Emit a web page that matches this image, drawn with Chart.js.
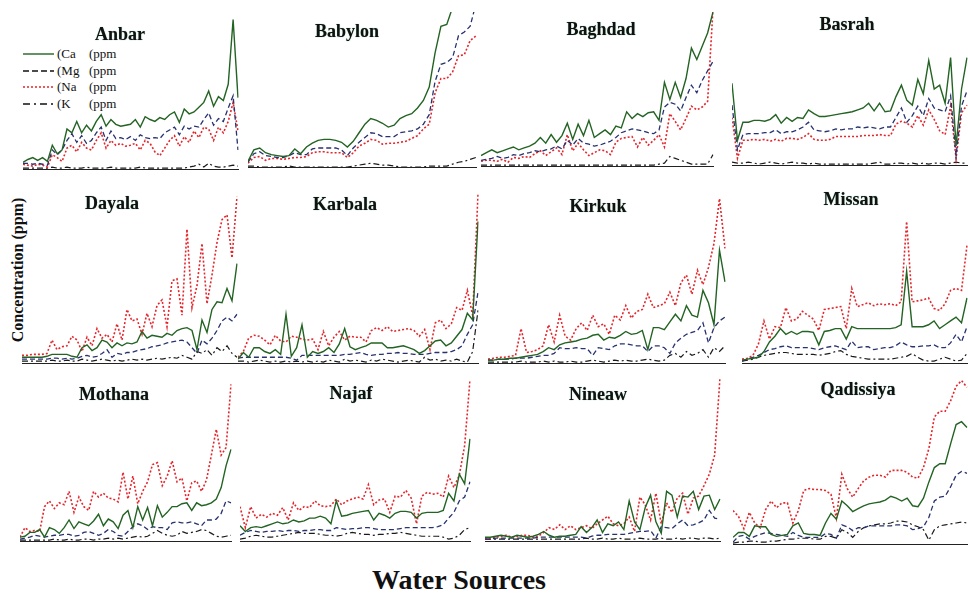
<!DOCTYPE html>
<html>
<head>
<meta charset="utf-8">
<script src="https://cdn.jsdelivr.net/npm/chart.js@4.4.1/dist/chart.umd.min.js"></script>
<style>
  body { margin: 0; background: #fff; }
  #page { position: relative; width: 968px; height: 594px; overflow: hidden; background: #fff; }
  #page canvas { position: absolute; }
  .ttl { position: absolute; width: 140px; text-align: center; font: bold 18px "Liberation Serif", "DejaVu Serif", serif; line-height: 18px; color: #111; text-shadow: 0 0 1px #6a8; }
  .legend { position: absolute; left: 23px; top: 46px; font: 13px "Liberation Serif", serif; color: #111; }
  .legend div { height: 16.5px; display: flex; align-items: center; }
  .legend svg { width: 31px; height: 6px; margin-right: 3px; }
  .legend span { display: inline-block; width: 32px; }
  #ytitle { position: absolute; left: -81px; top: 260px; width: 200px; height: 20px; line-height: 20px; text-align: center; font: bold 16px "Liberation Serif", serif; transform: rotate(-90deg); color: #111; }
  #xtitle { position: absolute; left: 309px; top: 566px; width: 300px; text-align: center; font: bold 28px "Liberation Serif", serif; line-height: 28px; color: #111; }
</style>
</head>
<body>
<div id="page">
  <div class="legend">
    <div><svg><line x1="0" y1="3" x2="31" y2="3" stroke="#236323" stroke-width="1.4"/></svg><span>(Ca</span>(ppm</div>
    <div><svg><line x1="0" y1="3" x2="31" y2="3" stroke="#111" stroke-width="1.4" stroke-dasharray="6 3"/></svg><span>(Mg</span>(ppm</div>
    <div><svg><line x1="0" y1="3" x2="31" y2="3" stroke="#e3262c" stroke-width="1.6" stroke-dasharray="2 2"/></svg><span>(Na</span>(ppm</div>
    <div><svg><line x1="0" y1="3" x2="31" y2="3" stroke="#111" stroke-width="1.4" stroke-dasharray="7 4 2 4"/></svg><span>(K</span>(ppm</div>
  </div>
  <div id="ytitle">Concentration (ppm)</div>
  <div id="xtitle">Water Sources</div>
</div>
<script>
// relative concentration (panel units, 0 = axis)
const anbarCa = [7,10,12,9,12,8,25,16,20,42,38,50,38,46,40,50,57,45,52,47,45,46,47,52,44,55,52,50,54,52,57,60,49,63,58,60,65,70,82,66,76,72,89,157,75];
const anbarMg = [6,6,5,6,5,4,20,15,20,30,37,28,35,27,30,38,44,30,40,32,33,31,34,30,36,33,32,33,32,38,41,44,36,45,42,45,44,52,59,46,53,50,64,77,20];
const anbarNa = [5,4,3,5,4,2,15,12,8,22,25,18,28,22,20,30,38,22,30,25,27,24,25,27,20,30,27,18,14,22,30,35,24,34,28,40,33,44,42,30,44,38,50,70,40];
const anbarK  = [1,1,1,1,1,1,2,1,1,2,1,1,1,2,1,1,1,1,2,1,1,1,1,1,2,1,1,1,1,1,1,1,1,1,2,3,5,2,6,3,2,2,3,4,3];

const babylonCa = [6,18,20,15,13,12,11,12,19,14,21,25,28,29,29,28,26,21,27,36,45,51,49,46,42,44,51,54,56,62,70,84,120,148,150,168,185,195,200,210];
const babylonMg = [5,14,16,12,11,10,10,12,15,13,13,19,20,20,20,20,18,12,20,26,31,36,35,32,32,32,36,37,38,40,45,55,90,108,110,115,138,142,148,172];
const babylonNa = [4,10,11,7,9,9,8,9,10,10,11,15,16,16,15,15,15,10,15,22,25,29,28,24,25,25,26,27,30,33,40,45,78,93,93,100,117,118,133,138];
const babylonK  = [1,1,0,0,0,0,0,1,0,0,0,0,0,0,0,0,0,0,1,2,3,4,3,2,2,1,0,0,0,0,0,1,1,1,1,3,5,6,8,10];

const baghdadCa = [11,14,17,14,16,18,20,17,19,21,24,30,24,33,25,32,45,28,44,32,48,30,34,38,33,42,40,57,50,55,52,56,57,48,88,70,88,72,92,124,112,126,140,162];
const baghdadMg = [6,7,8,10,8,9,12,11,13,14,16,15,17,18,21,18,27,22,29,24,23,21,22,24,26,30,35,37,39,38,37,35,34,38,62,67,65,58,72,85,77,90,100,110];
const baghdadNa = [5,6,6,5,7,4,9,8,10,9,13,16,11,15,19,12,33,16,24,17,11,14,17,16,12,25,29,30,31,20,30,22,27,33,20,55,47,38,50,63,59,62,68,165];
const baghdadK  = [1,1,1,1,1,1,1,1,1,1,1,1,1,1,1,1,1,1,1,1,1,1,1,1,1,1,1,1,1,1,1,1,1,2,3,10,8,6,4,2,2,2,2,12];

const basrahCa = [86,26,45,45,47,47,46,48,53,44,50,46,50,49,58,54,51,51,52,53,54,55,56,58,60,65,57,65,56,57,72,84,68,63,90,75,110,80,84,65,113,20,80,113];
const basrahMg = [63,16,32,33,33,33,34,34,37,33,35,35,37,40,45,37,36,35,36,38,37,38,38,40,39,40,39,38,40,40,50,60,45,52,62,52,70,60,58,56,73,10,62,78];
const basrahNa = [50,7,26,26,27,26,27,25,27,25,28,28,27,29,33,27,26,26,27,30,30,30,30,30,31,31,31,32,31,31,43,46,44,40,52,42,58,48,36,32,62,7,55,63];
const basrahK  = [3,2,2,3,2,1,2,3,2,1,2,3,2,2,1,2,1,1,1,1,1,1,1,1,1,1,2,3,1,1,2,2,1,2,1,2,1,2,2,1,2,3,2,2];

const dayalaCa = [6,6,6,6,6,7,9,9,9,9,7,6,16,19,13,16,24,22,16,21,18,21,20,22,33,26,29,28,27,31,29,34,36,37,34,14,45,32,56,64,63,78,65,104];
const dayalaMg = [4,4,4,4,4,4,5,5,4,5,4,5,7,8,6,7,10,14,6,10,9,11,11,13,14,15,17,18,19,21,22,23,24,22,16,10,24,20,26,34,44,48,44,51];
const dayalaNa = [8,8,9,9,9,10,24,14,17,18,28,24,12,27,18,36,26,30,22,41,24,56,44,46,30,52,38,60,66,38,86,88,50,140,58,81,125,62,92,126,150,155,110,174];
const dayalaK  = [2,2,2,2,2,2,3,2,2,3,2,2,4,3,2,3,4,3,2,3,2,3,4,3,4,3,4,5,4,5,6,5,8,6,4,12,10,14,8,16,12,18,10,6];

const karbalaCa = [4,11,6,16,16,12,10,14,9,51,7,16,40,6,12,10,12,16,11,20,36,17,14,16,18,21,21,21,16,16,17,18,16,14,10,13,18,23,24,18,21,28,35,52,45,148];
const karbalaMg = [5,6,6,6,6,6,6,6,6,6,5,3,8,8,8,8,8,8,8,8,9,9,10,11,9,8,9,9,10,10,11,10,10,9,9,9,10,11,11,11,12,14,18,30,40,74];
const karbalaNa = [6,12,26,29,28,24,19,29,23,22,28,27,25,24,25,14,33,18,27,33,24,28,27,27,22,34,37,34,38,33,34,35,36,34,28,35,14,42,45,36,41,58,55,76,50,176];
const karbalaK  = [2,2,1,2,3,2,1,2,1,2,1,2,1,2,1,2,1,3,2,1,4,2,3,2,1,3,2,4,3,2,1,2,3,2,1,6,3,4,2,3,2,4,2,1,12,55];

const kirkukCa = [3,3,4,4,5,5,6,7,8,9,12,16,14,19,21,22,23,25,26,29,30,24,27,26,29,33,30,31,34,14,37,37,35,43,51,44,60,50,48,76,63,40,118,85];
const kirkukMg = [3,3,4,4,4,5,5,5,6,7,8,8,10,16,15,15,16,15,15,8,16,15,14,18,20,20,19,18,18,12,18,18,16,10,21,26,30,32,34,42,21,37,44,48];
const kirkukNa = [4,5,6,6,7,8,36,11,12,14,18,40,22,50,28,24,36,42,34,50,38,41,30,50,45,60,47,54,56,72,58,60,62,74,60,84,92,72,97,82,100,125,172,120];
const kirkukK  = [1,1,1,1,1,1,2,1,1,1,2,1,2,1,1,2,1,1,2,3,2,1,2,3,2,3,2,2,3,4,3,2,3,8,10,6,12,8,10,14,6,16,12,18];

const missanCa = [3,4,5,6,12,22,28,36,30,33,30,33,33,32,19,33,34,36,36,25,38,36,36,36,36,36,36,36,37,40,96,38,38,38,40,44,36,40,44,48,42,68];
const missanMg = [2,4,6,8,11,14,15,17,18,16,16,16,16,15,14,16,17,18,16,14,23,16,17,17,14,15,16,16,18,22,19,17,17,18,18,19,16,16,21,30,22,38];
const missanNa = [4,5,8,20,44,25,38,37,58,44,46,54,50,46,34,56,57,58,59,36,78,59,61,63,60,62,61,62,60,64,148,64,65,66,68,57,55,62,76,78,76,123];
const missanK  = [2,3,4,6,8,9,10,11,11,10,9,9,9,9,8,9,10,12,13,9,7,6,5,4,4,4,4,4,5,6,7,10,6,3,2,2,4,6,4,2,3,10];

const mothanaCa = [4,5,9,9,12,4,14,12,8,14,22,13,20,18,16,21,28,16,23,20,13,27,32,14,36,22,35,16,37,25,30,36,36,39,40,32,40,37,38,40,44,56,79,96];
const mothanaMg = [2,3,4,6,5,4,5,6,6,7,7,5,6,9,10,8,6,8,12,10,6,5,10,15,18,16,12,15,14,14,12,19,20,19,19,20,18,16,22,22,23,29,42,40];
const mothanaNa = [4,14,10,11,10,36,42,34,40,38,52,30,46,36,32,52,46,50,45,44,41,72,44,68,39,52,62,80,82,58,68,84,62,66,42,61,63,52,64,90,117,90,98,164];
const mothanaK  = [1,1,1,1,1,1,1,2,1,1,2,1,1,2,2,1,2,2,3,2,3,2,3,4,5,4,5,8,11,8,6,5,6,10,8,9,10,12,11,8,5,4,5,6];

const najafCa = [16,10,14,15,14,16,18,20,18,19,22,20,21,24,24,26,24,18,42,26,27,29,30,31,32,22,29,27,24,29,31,31,30,24,29,30,30,30,32,50,42,70,60,107];
const najafMg = [6,9,11,10,9,10,10,11,10,11,11,10,11,11,12,12,11,11,14,13,12,13,13,14,14,13,12,12,12,12,13,14,14,14,14,14,14,15,17,24,30,42,46,62];
const najafNa = [36,14,36,24,28,25,29,27,35,22,40,32,36,35,42,37,36,37,44,38,42,44,46,44,59,38,43,44,30,47,46,53,45,18,47,51,49,50,46,68,56,69,100,169];
const najafK  = [2,3,5,6,5,4,4,5,6,7,8,9,8,8,8,7,6,6,5,6,8,9,8,7,7,6,7,7,8,8,9,8,7,6,5,5,5,5,4,2,3,6,12,14];

const nineawCa = [4,4,5,6,5,4,6,5,4,5,7,10,6,4,5,5,6,7,15,9,14,22,9,18,16,20,12,42,20,12,35,48,20,8,52,48,25,47,46,52,33,47,48,33,44];
const nineawMg = [2,2,3,3,3,3,3,3,3,3,4,4,4,4,4,4,4,4,4,3,5,6,6,7,7,7,7,8,9,10,10,11,3,15,14,13,18,22,16,17,19,22,32,24,23];
const nineawNa = [2,3,4,5,6,4,5,6,6,4,5,9,14,12,17,12,16,12,14,16,13,18,22,26,18,16,18,25,10,46,38,22,50,18,40,30,45,50,28,45,47,58,70,90,171];
const nineawK  = [2,2,2,2,2,2,2,2,2,2,2,2,2,2,2,2,2,2,2,3,2,2,3,2,2,3,2,2,2,3,2,2,2,3,2,2,3,2,3,3,2,3,3,2,3];

const qadissiyaCa = [7,12,12,8,19,18,18,10,8,9,10,19,22,11,10,10,9,22,32,26,45,40,34,37,40,42,43,44,46,50,48,45,48,40,39,48,65,80,84,84,105,125,128,122];
const qadissiyaMg = [2,8,9,5,8,10,12,11,10,9,8,12,9,7,7,7,7,11,10,6,20,18,14,17,17,19,19,19,19,19,20,20,19,15,16,18,28,45,49,50,60,72,76,74];
const qadissiyaNa = [35,29,16,33,22,17,36,45,38,43,43,22,35,56,58,57,57,56,52,27,73,58,49,58,66,70,72,72,70,77,77,77,75,70,69,80,100,133,139,139,150,165,171,164];
const qadissiyaK  = [1,2,2,3,3,2,2,3,3,4,5,5,6,6,6,5,5,8,8,6,15,12,7,13,17,19,20,21,21,22,24,24,23,20,18,15,4,15,19,20,21,22,23,22];

const seriesNames = ['Ca', 'Mg', 'Na', 'K'];

// panel boxes: left, right, axis y, top y, title centre and title top
const panels = [
  { name: 'Anbar',     x0: 23,  x1: 238, base: 177, top: 12,  tx: 120, ty: 25,  data: [anbarCa, anbarMg, anbarNa, anbarK] },
  { name: 'Babylon',   x0: 248, x1: 476, base: 175, top: 12,  tx: 347, ty: 22,  data: [babylonCa, babylonMg, babylonNa, babylonK] },
  { name: 'Baghdad',   x0: 481, x1: 713, base: 174, top: 12,  tx: 601, ty: 20,  data: [baghdadCa, baghdadMg, baghdadNa, baghdadK] },
  { name: 'Basrah',    x0: 732, x1: 967, base: 173, top: 12,  tx: 847, ty: 15,  data: [basrahCa, basrahMg, basrahNa, basrahK] },
  { name: 'Dayala',    x0: 22,  x1: 237, base: 371, top: 190, tx: 112, ty: 194, data: [dayalaCa, dayalaMg, dayalaNa, dayalaK] },
  { name: 'Karbala',   x0: 238, x1: 478, base: 371, top: 190, tx: 345, ty: 195, data: [karbalaCa, karbalaMg, karbalaNa, karbalaK] },
  { name: 'Kirkuk',    x0: 488, x1: 725, base: 371, top: 190, tx: 598, ty: 197, data: [kirkukCa, kirkukMg, kirkukNa, kirkukK] },
  { name: 'Missan',    x0: 742, x1: 967, base: 371, top: 190, tx: 851, ty: 190, data: [missanCa, missanMg, missanNa, missanK] },
  { name: 'Mothana',   x0: 20,  x1: 231, base: 549, top: 372, tx: 114, ty: 385, data: [mothanaCa, mothanaMg, mothanaNa, mothanaK] },
  { name: 'Najaf',     x0: 240, x1: 470, base: 549, top: 372, tx: 351, ty: 384, data: [najafCa, najafMg, najafNa, najafK] },
  { name: 'Nineaw',    x0: 485, x1: 720, base: 549, top: 372, tx: 598, ty: 385, data: [nineawCa, nineawMg, nineawNa, nineawK] },
  { name: 'Qadissiya', x0: 733, x1: 967, base: 552, top: 372, tx: 858, ty: 380, data: [qadissiyaCa, qadissiyaMg, qadissiyaNa, qadissiyaK] }
];

const styles = [
  { borderColor: '#236323', borderWidth: 1.4, borderDash: [] },
  { borderColor: '#27326e', borderWidth: 1.3, borderDash: [5, 3] },
  { borderColor: '#e3262c', borderWidth: 1.6, borderDash: [2, 2] },
  { borderColor: '#1a1a1a', borderWidth: 1.2, borderDash: [6, 3, 2, 3] }
];

const page = document.getElementById('page');

panels.forEach(function (p) {
  const cv = document.createElement('canvas');
  const w = p.x1 - p.x0 + 1;
  const h = p.base - p.top + 2;
  cv.width = w;
  cv.height = h;
  cv.style.left = p.x0 + 'px';
  cv.style.top = p.top + 'px';
  cv.style.width = w + 'px';
  cv.style.height = h + 'px';
  page.appendChild(cv);

  const labels = p.data[0].map(function (v, i) { return i + 1; });
  const datasets = p.data.map(function (vals, i) {
    return {
      label: seriesNames[i],
      data: vals,
      borderColor: styles[i].borderColor,
      borderWidth: styles[i].borderWidth,
      borderDash: styles[i].borderDash,
      pointRadius: 0,
      tension: 0,
      fill: false
    };
  });

  new Chart(cv, {
    type: 'line',
    data: { labels: labels, datasets: datasets },
    options: {
      responsive: false,
      animation: false,
      devicePixelRatio: 1,
      layout: { padding: { top: 0, bottom: 2, left: 0, right: 1 } },
      plugins: { legend: { display: false }, tooltip: { enabled: false } },
      scales: {
        x: { display: true, grid: { display: false }, ticks: { display: false }, border: { display: true, color: '#222', width: 1 } },
        y: { display: false, min: 0, max: p.base - p.top }
      }
    }
  });

  const t = document.createElement('div');
  t.className = 'ttl';
  t.textContent = p.name;
  t.style.left = (p.tx - 70) + 'px';
  t.style.top = p.ty + 'px';
  page.appendChild(t);
});
</script>
</body>
</html>
